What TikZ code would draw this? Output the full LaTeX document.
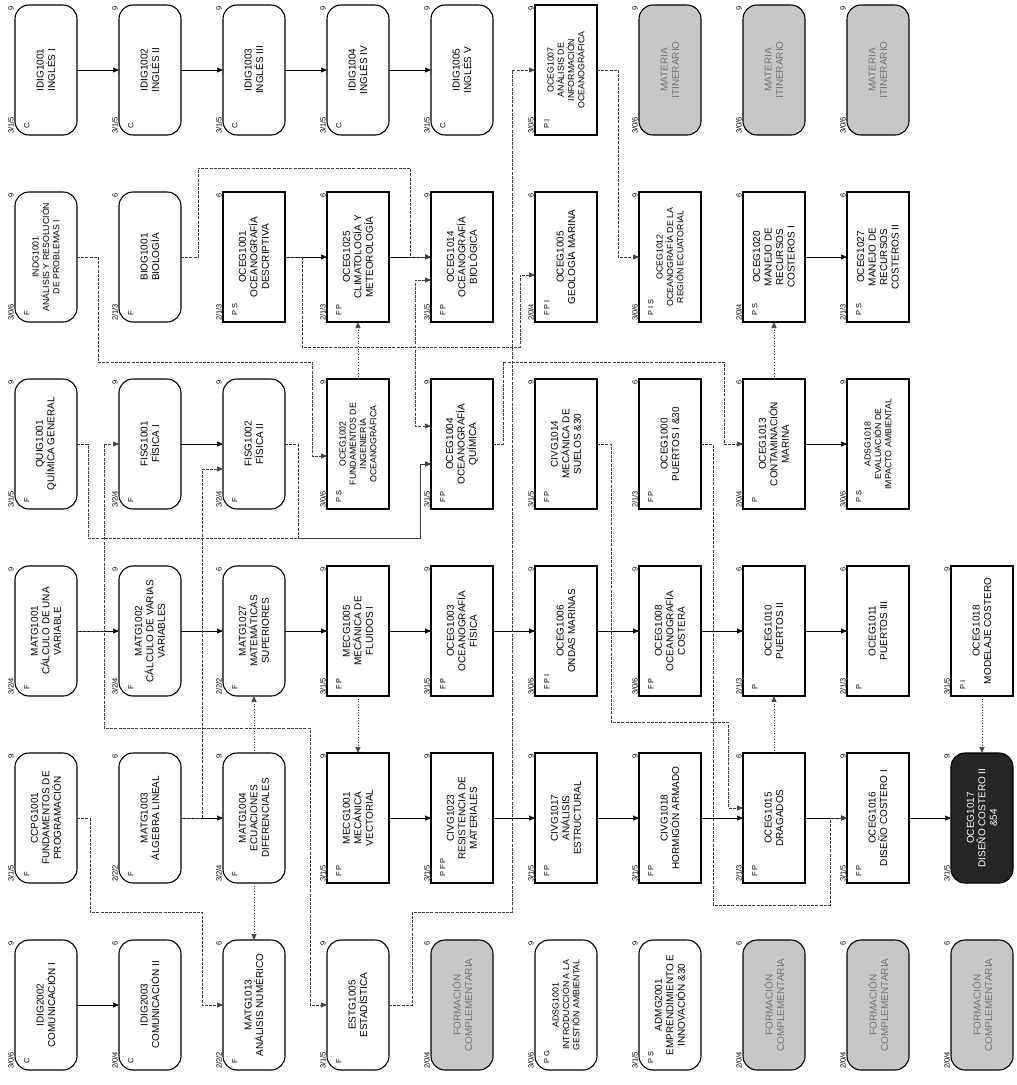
\documentclass[tikz,border=0pt]{standalone}
\usepackage{fontspec}
\setmainfont{Liberation Sans}
\usepackage{graphicx}
\usetikzlibrary{arrows.meta,calc}
\tikzset{
 basebox/.style={draw=black, line width=1.1pt, minimum width=62pt, minimum height=130pt, inner sep=0pt, outer sep=0pt, fill=white, font=\fontsize{10}{11.5}\selectfont},
 rbox/.style={basebox, rounded corners=14pt},
 sbox/.style={basebox},
 gbox/.style={rbox, fill=black!22, text=black!55},
 dbox/.style={rbox, fill=black!85, text=white},
 smallfont/.style={font=\fontsize{8.8}{10.3}\selectfont},
 hrs/.style={rotate=90, font=\fontsize{7.5}{8.5}\selectfont, inner sep=1pt},
 ltr/.style={rotate=90, font=\fontsize{7.5}{8.5}\selectfont, inner sep=0pt},
 sol/.style={draw=black, line width=0.7pt, -{Triangle[length=6pt,width=5pt]}},
 dsh/.style={draw=black!75, line width=0.6pt, dash pattern=on 3pt off 1.2pt, -{Triangle[length=6pt,width=5pt]}},
 dot/.style={draw=black!75, line width=0.7pt, dotted, -{Triangle[length=6pt,width=5pt]}},
}
\newcommand{\crs}[8]{%
 \node[#4] (#1) at ({46+104*(#2-1)},{70+187*(#3-1)}) {\rotatebox{90}{\parbox{122pt}{\centering #8}}};
 \node[hrs,anchor=south west] (#1h) at (#1.south west) {#5};
 \node[hrs,anchor=south east] (#1c) at (#1.north west) {#6};
 \node[ltr,anchor=north west] (#1l) at ($(#1.south west)+(9,-6)$) {#7};
}
\begin{document}
\begin{tikzpicture}[x=1pt,y=-1pt]
\useasboundingbox (0,0) rectangle (1017,1085);
\fill[white] (0,0) rectangle (1017,1085);
% row 1
\crs{b11}{1}{1}{rbox}{3/1/5}{9}{C}{IDIG1001\\INGLÉS I}
\crs{b12}{2}{1}{rbox}{3/1/5}{9}{C}{IDIG1002\\INGLÉS II}
\crs{b13}{3}{1}{rbox}{3/1/5}{9}{C}{IDIG1003\\INGLÉS III}
\crs{b14}{4}{1}{rbox}{3/1/5}{9}{C}{IDIG1004\\INGLÉS IV}
\crs{b15}{5}{1}{rbox}{3/1/5}{9}{C}{IDIG1005\\INGLÉS V}
\crs{b16}{6}{1}{sbox,smallfont}{3/0/5}{9}{P I}{OCEG1007\\ANÁLISIS DE\\INFORMACIÓN\\OCEANOGRÁFICA}
\crs{b17}{7}{1}{gbox}{3/0/6}{9}{}{MATERIA\\ITINERARIO}
\crs{b18}{8}{1}{gbox}{3/0/6}{9}{}{MATERIA\\ITINERARIO}
\crs{b19}{9}{1}{gbox}{3/0/6}{9}{}{MATERIA\\ITINERARIO}
% row 2
\crs{b21}{1}{2}{rbox,smallfont}{3/0/6}{9}{F}{INDG1001\\ANÁLISIS Y RESOLUCIÓN\\DE PROBLEMAS I}
\crs{b22}{2}{2}{rbox}{2/1/3}{6}{F}{BIOG1001\\BIOLOGÍA}
\crs{b23}{3}{2}{sbox}{2/1/3}{6}{P S}{OCEG1001\\OCEANOGRAFÍA\\DESCRIPTIVA}
\crs{b24}{4}{2}{sbox}{2/1/3}{6}{F P}{OCEG1025\\CLIMATOLOGÍA Y\\METEOROLOGÍA}
\crs{b25}{5}{2}{sbox}{3/1/5}{9}{F P}{OCEG1014\\OCEANOGRAFÍA\\BIOLÓGICA}
\crs{b26}{6}{2}{sbox}{2/0/4}{6}{F P I}{OCEG1005\\GEOLOGÍA MARINA}
\crs{b27}{7}{2}{sbox,smallfont}{3/0/6}{9}{P I S}{OCEG1012\\OCEANOGRAFÍA DE LA\\REGIÓN ECUATORIAL}
\crs{b28}{8}{2}{sbox}{2/0/4}{6}{P S}{OCEG1020\\MANEJO DE\\RECURSOS\\COSTEROS I}
\crs{b29}{9}{2}{sbox}{2/1/3}{6}{P S}{OCEG1027\\MANEJO DE\\RECURSOS\\COSTEROS II}
% row 3
\crs{b31}{1}{3}{rbox}{3/1/5}{9}{F}{QUIG1001\\QUÍMICA GENERAL}
\crs{b32}{2}{3}{rbox}{3/2/4}{9}{F}{FISG1001\\FÍSICA I}
\crs{b33}{3}{3}{rbox}{3/2/4}{9}{F}{FISG1002\\FÍSICA II}
\crs{b34}{4}{3}{sbox,smallfont}{3/0/6}{9}{P S}{OCEG1002\\FUNDAMENTOS DE\\INGENIERÍA\\OCEANOGRÁFICA}
\crs{b35}{5}{3}{sbox}{3/1/5}{9}{F P}{OCEG1004\\OCEANOGRAFÍA\\QUÍMICA}
\crs{b36}{6}{3}{sbox}{3/1/5}{9}{F P}{CIVG1014\\MECÁNICA DE\\SUELOS \&30}
\crs{b37}{7}{3}{sbox}{2/1/3}{6}{F P}{OCEG1000\\PUERTOS I \&30}
\crs{b38}{8}{3}{sbox}{2/0/4}{6}{P}{OCEG1013\\CONTAMINACIÓN\\MARINA}
\crs{b39}{9}{3}{sbox,smallfont}{3/0/6}{9}{P S}{ADSG1018\\EVALUACIÓN DE\\IMPACTO AMBIENTAL}
% row 4
\crs{b41}{1}{4}{rbox}{3/2/4}{9}{F}{MATG1001\\CÁLCULO DE UNA\\VARIABLE}
\crs{b42}{2}{4}{rbox}{3/2/4}{9}{F}{MATG1002\\CÁLCULO DE VARIAS\\VARIABLES}
\crs{b43}{3}{4}{rbox}{2/2/2}{6}{F}{MATG1027\\MATEMÁTICAS\\SUPERIORES}
\crs{b44}{4}{4}{sbox}{3/1/5}{9}{F P}{MECG1005\\MECÁNICA DE\\FLUIDOS I}
\crs{b45}{5}{4}{sbox}{3/1/5}{9}{F P}{OCEG1003\\OCEANOGRAFÍA\\FÍSICA}
\crs{b46}{6}{4}{sbox}{3/0/6}{9}{F P I}{OCEG1006\\ONDAS MARINAS}
\crs{b47}{7}{4}{sbox}{3/0/6}{9}{F P}{OCEG1008\\OCEANOGRAFÍA\\COSTERA}
\crs{b48}{8}{4}{sbox}{2/1/3}{6}{P}{OCEG1010\\PUERTOS II}
\crs{b49}{9}{4}{sbox}{2/1/3}{6}{P}{OCEG1011\\PUERTOS III}
\crs{b4A}{10}{4}{sbox}{3/1/5}{9}{P I}{OCEG1018\\MODELAJE COSTERO}
% row 5
\crs{b51}{1}{5}{rbox}{3/1/5}{9}{F}{CCPG1001\\FUNDAMENTOS DE\\PROGRAMACIÓN}
\crs{b52}{2}{5}{rbox}{2/2/2}{6}{F}{MATG1003\\ÁLGEBRA LINEAL}
\crs{b53}{3}{5}{rbox}{3/2/4}{9}{F}{MATG1004\\ECUACIONES\\DIFERENCIALES}
\crs{b54}{4}{5}{sbox}{3/1/5}{9}{F P}{MECG1001\\MECÁNICA\\VECTORIAL}
\crs{b55}{5}{5}{sbox}{3/1/5}{9}{P F P}{CIVG1023\\RESISTENCIA DE\\MATERIALES}
\crs{b56}{6}{5}{sbox}{3/1/5}{9}{F P}{CIVG1017\\ANÁLISIS\\ESTRUCTURAL}
\crs{b57}{7}{5}{sbox}{3/1/5}{9}{F P}{CIVG1018\\HORMIGÓN ARMADO}
\crs{b58}{8}{5}{sbox}{2/1/3}{6}{F P}{OCEG1015\\DRAGADOS}
\crs{b59}{9}{5}{sbox}{3/1/5}{9}{F P}{OCEG1016\\DISEÑO COSTERO I}
\crs{b5A}{10}{5}{dbox}{3/1/5}{9}{}{OCEG1017\\DISEÑO COSTERO II\\\&54}
% row 6
\crs{b61}{1}{6}{rbox}{3/0/6}{9}{C}{IDIG2002\\COMUNICACIÓN I}
\crs{b62}{2}{6}{rbox}{2/0/4}{6}{C}{IDIG2003\\COMUNICACIÓN II}
\crs{b63}{3}{6}{rbox}{2/2/2}{6}{F}{MATG1013\\ANÁLISIS NUMÉRICO}
\crs{b64}{4}{6}{rbox}{3/1/5}{9}{F}{ESTG1005\\ESTADÍSTICA}
\crs{b65}{5}{6}{gbox}{2/0/4}{6}{}{FORMACIÓN\\COMPLEMENTARIA}
\crs{b66}{6}{6}{rbox,smallfont}{3/0/6}{9}{P G}{ADSG1001\\INTRODUCCIÓN A LA\\GESTIÓN AMBIENTAL}
\crs{b67}{7}{6}{rbox}{3/1/5}{9}{P S}{ADMG2001\\EMPRENDIMIENTO E\\INNOVACIÓN \&30}
\crs{b68}{8}{6}{gbox}{2/0/4}{6}{}{FORMACIÓN\\COMPLEMENTARIA}
\crs{b69}{9}{6}{gbox}{2/0/4}{6}{}{FORMACIÓN\\COMPLEMENTARIA}
\crs{b6A}{10}{6}{gbox}{2/0/4}{6}{}{FORMACIÓN\\COMPLEMENTARIA}
% solid prerequisite arrows
\foreach \a/\b in {b11/b12,b12/b13,b13/b14,b14/b15,b23/b24,b24/b25,b28/b29,b32/b33,b38/b39,b41/b42,b42/b43,b43/b44,b44/b45,b45/b46,b46/b47,b47/b48,b48/b49,b52/b53,b54/b55,b55/b56,b56/b57,b57/b58,b58/b59,b59/b5A,b61/b62}
  \draw[sol] (\a.east) -- (\b.west);
% routed prerequisite connectors
\draw[dsh] (b21.east) -- (98,257) -- (98,362) -- (312,362) -- (312,456) -- ([yshift=-12pt]b34.west);
\draw[dsh] (b22.east) -- (198,257) -- (198,168) -- (410,168) -- (410,257) -- (b25.west);
\draw[dsh] (b23.east) -- (302,257) -- (302,347) -- (415,347) -- (415,280) -- ([yshift=-23pt]b25.west);
\draw[dsh] (b23.east) -- (302,257) -- (302,347) -- (415,347) -- (415,426) -- ([yshift=18pt]b35.west);
\draw[dsh] (b23.east) -- (302,257) -- (302,347) -- (520,347) -- (520,275) -- ([yshift=-18pt]b26.west);
\draw[dsh] (b31.east) -- (88,444) -- (88,538) -- (420,538) -- (420,464) -- ([yshift=-20pt]b35.west);
\draw[dsh] (b33.east) -- (298,444) -- (298,538) -- (420,538) -- (420,464) -- ([yshift=-20pt]b35.west);
\draw[dsh] (b52.east) -- (202,818) -- (202,469) -- ([yshift=-25pt]b33.west);
\draw[dsh] (b41.east) -- (104,631) -- (104,444) -- (b32.west);
\draw[dsh] (b41.east) -- (104,631) -- (104,728) -- (310,728) -- (310,1005) -- (b64.west);
\draw[dsh] (b51.east) -- (90,818) -- (90,912) -- (202,912) -- (202,1005) -- (b63.west);
\draw[dsh] (b64.east) -- (412,1005) -- (412,912) -- (512,912) -- (512,70) -- (b16.west);
\draw[dsh] (b16.east) -- (618,70) -- (618,257) -- (b27.west);
\draw[dsh] (b35.east) -- (503,444) -- (503,362) -- (724,362) -- (724,444) -- (b38.west);
\draw[dsh] (b36.east) -- (611,444) -- (611,722) -- (728,722) -- (728,808) -- ([yshift=10pt]b58.west);
\draw[dsh] (b37.east) -- (713,444) -- (713,905) -- (830,905) -- (830,818) -- (b59.west);
% co-requisite dotted arrows
\draw[dot] (b34.north) -- (b24.south);
\draw[dot] (b38.north) -- (b28.south);
\draw[dot] (b44.south) -- (b54.north);
\draw[dot] (b53.north) -- (b43.south);
\draw[dot] (b58.north) -- (b48.south);
\draw[dot] (b4A.south) -- (b5A.north);
\draw[dot] (b53.south) -- (b63.north);
\end{tikzpicture}
\end{document}
